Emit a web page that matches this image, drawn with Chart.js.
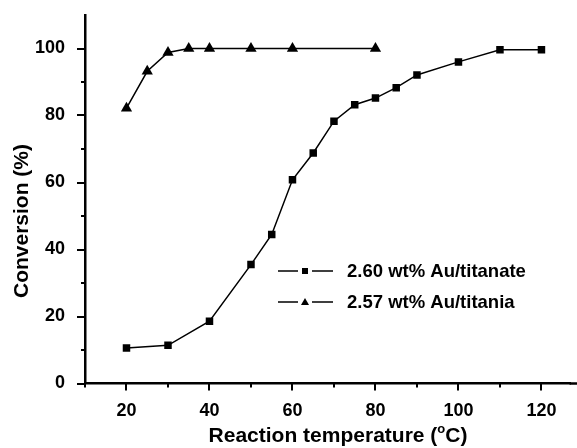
<!DOCTYPE html>
<html>
<head>
<meta charset="utf-8">
<script src="https://cdn.jsdelivr.net/npm/chart.js@4"></script>
<style>
  html, body { margin: 0; padding: 0; background: #fff; overflow: hidden; }
  #wrap { width: 577px; height: 448px; }
</style>
</head>
<body>
<div id="wrap"><canvas id="chart1"></canvas></div>
<script>
// data
const titanateTemps = [20, 30, 40, 50, 55, 60, 65, 70, 75, 80, 85, 90, 100, 110, 120];
const titanateConv = [10.6, 11.4, 18.6, 35.5, 44.5, 60.8, 68.8, 78.3, 83.2, 85.2, 88.3, 92.1, 96.0, 99.6, 99.6];
const titaniaTemps = [20, 25, 30, 35, 40, 50, 60, 80];
const titaniaConv = [82.2, 93.2, 98.8, 100, 100, 100, 100, 100];
const seriesNames = ['2.60 wt% Au/titanate', '2.57 wt% Au/titania'];
const xTitle = 'Reaction temperature (';
const yTitle = 'Conversion (%)';
const xLabels = [20, 40, 60, 80, 100, 120];
const yLabels = [0, 20, 40, 60, 80, 100];

const FONT = '"Liberation Sans", Arial, sans-serif';

function toPoints(xs, ys) {
    return xs.map((x, i) => ({ x: x, y: ys[i] }));
}

// ticks, axis titles and the legend are drawn by hand
const decorPlugin = {
    id: 'decor',
    afterDraw(chart) {
        const ctx = chart.ctx;
        const xs = chart.scales.x;
        const ys = chart.scales.y;
        const area = chart.chartArea;
        ctx.save();
        ctx.strokeStyle = '#000';

        // x axis line runs on to the edge
        ctx.lineWidth = 2.5;
        ctx.beginPath();
        ctx.moveTo(area.right - 1, area.bottom);
        ctx.lineTo(chart.width, area.bottom);
        ctx.stroke();

        ctx.lineWidth = 2;
        // x ticks
        for (let v = 10; v <= 120; v += 10) {
            const px = Math.round(xs.getPixelForValue(v));
            const len = (v % 20 === 0) ? 7 : 4;
            ctx.beginPath();
            ctx.moveTo(px, area.bottom);
            ctx.lineTo(px, area.bottom + len);
            ctx.stroke();
        }
        // y ticks
        for (let v = 0; v <= 100; v += 10) {
            const py = Math.round(ys.getPixelForValue(v));
            const len = (v % 20 === 0) ? 8 : 4;
            ctx.beginPath();
            ctx.moveTo(area.left, py);
            ctx.lineTo(area.left - len, py);
            ctx.stroke();
        }

        // axis titles
        ctx.fillStyle = '#000';
        ctx.textBaseline = 'middle';
        ctx.font = 'bold 21px ' + FONT;
        const w1 = ctx.measureText(xTitle).width;
        const w2 = ctx.measureText('C)').width;
        ctx.font = 'bold 13px ' + FONT;
        const wo = ctx.measureText('o').width;
        let tx = 338 - (w1 + wo + w2) / 2;
        ctx.textAlign = 'left';
        ctx.font = 'bold 21px ' + FONT;
        ctx.fillText(xTitle, tx, 436);
        ctx.font = 'bold 13px ' + FONT;
        ctx.fillText('o', tx + w1, 429);
        ctx.font = 'bold 21px ' + FONT;
        ctx.fillText('C)', tx + w1 + wo, 436);

        ctx.save();
        ctx.translate(22, 221);
        ctx.rotate(-Math.PI / 2);
        ctx.textAlign = 'center';
        ctx.fillText(yTitle, 0, 0);
        ctx.restore();

        // legend
        const rows = [271, 302];
        ctx.font = 'bold 18.5px ' + FONT;
        ctx.textAlign = 'left';
        rows.forEach((ry, i) => {
            ctx.lineWidth = 1.5;
            ctx.beginPath();
            ctx.moveTo(278, ry);
            ctx.lineTo(298, ry);
            ctx.moveTo(312, ry);
            ctx.lineTo(333, ry);
            ctx.stroke();
            if (i === 0) {
                ctx.fillRect(302, ry - 3, 6, 6);
            } else {
                ctx.beginPath();
                ctx.moveTo(305, ry - 4);
                ctx.lineTo(309, ry + 3);
                ctx.lineTo(301, ry + 3);
                ctx.closePath();
                ctx.fill();
            }
            ctx.fillText(seriesNames[i], 347, ry + 1);
        });
        ctx.restore();
    }
};

const ctx = document.getElementById('chart1').getContext('2d');
const chart1 = new Chart(ctx, {
    type: 'line',
    data: {
        datasets: [
            {
                label: seriesNames[0],
                data: toPoints(titanateTemps, titanateConv),
                borderColor: '#000',
                backgroundColor: '#000',
                borderWidth: 1.5,
                pointStyle: 'rect',
                pointRadius: 5.3,
                pointBorderWidth: 0,
                tension: 0
            },
            {
                label: seriesNames[1],
                data: toPoints(titaniaTemps, titaniaConv),
                borderColor: '#000',
                backgroundColor: '#000',
                borderWidth: 1.5,
                pointStyle: 'triangle',
                pointRadius: 6.5,
                pointBorderWidth: 0,
                tension: 0
            }
        ]
    },
    options: {
        responsive: true,
        maintainAspectRatio: false,
        animation: false,
        layout: { padding: { top: 15, right: 0, left: 0, bottom: 0 } },
        plugins: {
            legend: { display: false },
            tooltip: { enabled: false }
        },
        scales: {
            x: {
                type: 'linear',
                min: 10,
                max: 127,
                grid: { display: false },
                border: { display: true, color: '#000', width: 2.5 },
                afterFit: (s) => {
                    s.height = 64.5;
                    s.paddingLeft = 0;
                    s.paddingRight = 0;
                },
                afterBuildTicks: (s) => { s.ticks = xLabels.map(v => ({ value: v })); },
                ticks: {
                    padding: 9,
                    color: '#000',
                    font: { family: FONT, size: 18, weight: 'bold' },
                    maxRotation: 0,
                    autoSkip: false
                }
            },
            y: {
                min: 0,
                max: 110,
                grid: { display: false },
                border: { display: true, color: '#000', width: 2.5 },
                afterFit: (s) => {
                    s.width = 85;
                    s.paddingTop = 0;
                    s.paddingBottom = 0;
                },
                afterBuildTicks: (s) => { s.ticks = yLabels.map(v => ({ value: v })); },
                ticks: {
                    padding: 12,
                    color: '#000',
                    font: { family: FONT, size: 18, weight: 'bold' },
                    autoSkip: false
                }
            }
        }
    },
    plugins: [decorPlugin]
});
</script>
</body>
</html>
